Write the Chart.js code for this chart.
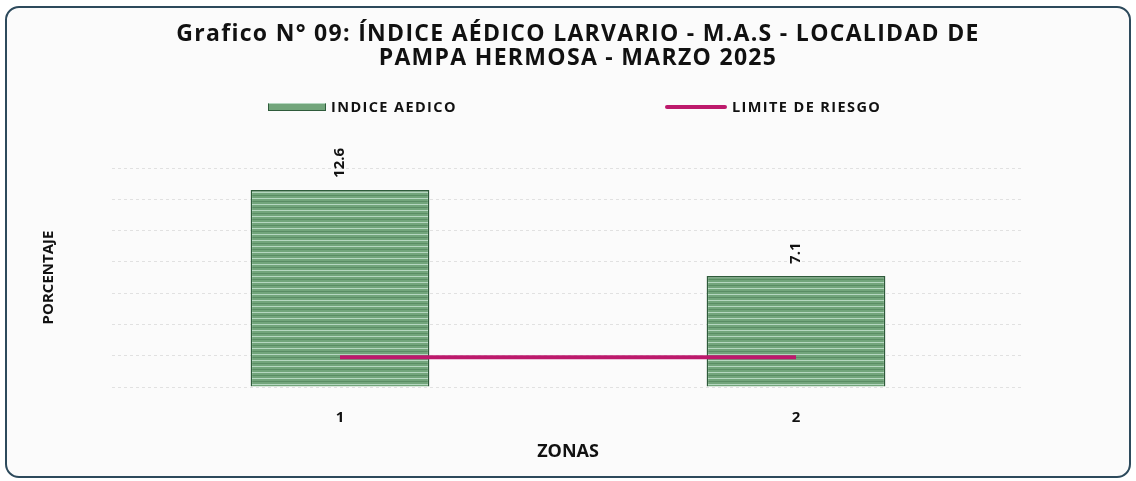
<!DOCTYPE html>
<html>
<head>
<meta charset="utf-8">
<script src="https://cdn.jsdelivr.net/npm/chart.js@4"></script>
<style>
  body { margin: 0; background: #ffffff; }
  #wrap { position: relative; width: 1136px; height: 481px; }
  #frame {
    position: absolute; left: 5px; top: 6px; width: 1122px; height: 468px;
    border: 2px solid #2d4a5c; border-radius: 14px; background: #fbfbfb;
  }
  #chart { position: absolute; left: 0; top: 0; }
  #title {
    position: absolute; left: 78px; width: 1000px; top: 20px; text-align: center;
    font: bold 23px "Open Sans", sans-serif; letter-spacing: 1.3px; line-height: 24px; color: #111;
  }
  .leg { position: absolute; top: 98px; font: bold 14.5px "Open Sans", sans-serif; letter-spacing: 1.4px; color: #111; line-height: 18px; white-space: nowrap; }
  .leg span.mark { display: inline-block; vertical-align: middle; margin-right: 5px; position: relative; top: -1px; }
</style>
</head>
<body>
<div id="wrap">
  <div id="frame"></div>
  <canvas id="chart" width="1136" height="481"></canvas>
  <div id="title"></div>
  <div class="leg" id="leg1" style="left:268px"></div>
  <div class="leg" id="leg2" style="left:665px"></div>
</div>
<script>
// datos
const titulo = ['Grafico N° 09: ÍNDICE AÉDICO LARVARIO - M.A.S - LOCALIDAD DE', 'PAMPA HERMOSA - MARZO 2025'];
const zonas = ['1', '2'];
const indiceAedico = [12.6, 7.1];
const limiteRiesgo = [1.9, 1.9];
const yMax = 14;
const yStep = 2;

// ✅ patron de franjas horizontales para las barras
function stripePattern() {
    const c = document.createElement('canvas');
    c.width = 8; c.height = 6;
    const g = c.getContext('2d');
    g.fillStyle = '#72a57b';
    g.fillRect(0, 0, 8, 6);
    g.fillStyle = '#b5d7c0';
    g.fillRect(0, 0, 8, 1);
    g.fillStyle = '#5a8d64';
    g.fillRect(0, 3, 8, 1);
    return g.createPattern(c, 'repeat');
}
const barFill = stripePattern();
const lineColor = '#bd1a6c';

// ✅ etiquetas de valor giradas encima de cada barra
const valueLabels = {
    id: 'valueLabels',
    afterDatasetsDraw(chart) {
        const ctx = chart.ctx;
        const meta = chart.getDatasetMeta(1);
        ctx.save();
        ctx.font = 'bold 15px "Open Sans", sans-serif';
        ctx.fillStyle = '#111';
        ctx.textBaseline = 'middle';
        ctx.textAlign = 'left';
        meta.data.forEach((bar, i) => {
            ctx.save();
            ctx.translate(bar.x, bar.y - 12);
            ctx.rotate(-Math.PI / 2);
            ctx.fillText(indiceAedico[i].toFixed(1), 0, 0);
            ctx.restore();
        });
        ctx.restore();
    }
};

const chart = new Chart(document.getElementById('chart'), {
    type: 'bar',
    data: {
        labels: zonas,
        datasets: [
            {
                type: 'line',
                label: 'LIMITE DE RIESGO',
                data: limiteRiesgo,
                borderColor: lineColor,
                borderWidth: 4,
                pointRadius: 0,
                order: 0
            },
            {
                label: 'INDICE AEDICO',
                data: indiceAedico,
                backgroundColor: barFill,
                borderColor: '#2f5b3b',
                borderWidth: 1.5,
                barPercentage: 0.49,
                categoryPercentage: 0.8,
                order: 1
            }
        ]
    },
    options: {
        responsive: false,
        animation: false,
        layout: { padding: { left: 36, right: 112, top: 168, bottom: 14 } },
        plugins: {
            legend: { display: false },
            tooltip: { enabled: false },
            title: { display: false }
        },
        scales: {
            x: {
                grid: { display: false, drawTicks: false },
                border: { display: false },
                ticks: { color: '#111', padding: 22, font: { family: '"Open Sans", sans-serif', size: 15, weight: 'bold' } },
                title: { display: true, text: 'ZONAS', color: '#111', padding: { top: 4, bottom: 4 },
                         font: { family: '"Open Sans", sans-serif', size: 18, weight: 'bold' } },
                afterFit(scale) { scale.height = 80; }
            },
            y: {
                min: 0, max: yMax,
                grid: { color: 'rgba(0,0,0,0.10)', drawTicks: false },
                border: { display: false, dash: [3, 3] },
                ticks: { display: false, stepSize: yStep },
                title: { display: true, text: 'PORCENTAJE', color: '#111', padding: { top: 4, bottom: 4 },
                         font: { family: '"Open Sans", sans-serif', size: 15, weight: 'bold' } },
                afterFit(scale) { scale.width = 76; }
            }
        }
    },
    plugins: [valueLabels]
});

// ✅ titulo y leyenda en HTML (la leyenda del original tiene elementos muy separados)
document.getElementById('title').innerHTML = titulo.join('<br>');
const ds = chart.data.datasets;
document.getElementById('leg1').innerHTML =
    '<span class="mark" style="width:56px;height:6px;background:#72a57b;border:1px solid #2f5b3b;border-top-color:#b5d7c0"></span>' + ds[1].label;
document.getElementById('leg2').innerHTML =
    '<span class="mark" style="width:62px;height:4px;background:' + ds[0].borderColor + ';border-radius:2px"></span>' + ds[0].label;
</script>
</body>
</html>
